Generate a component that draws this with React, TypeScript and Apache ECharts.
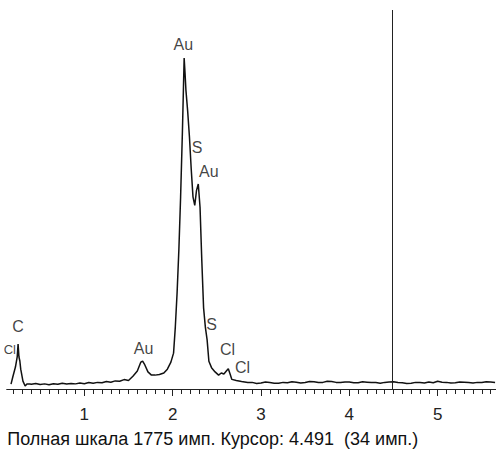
import React, { useEffect, useRef } from "react";
import * as echarts from "echarts";

// Spectrum: energy (keV) and counts (imp.)
const energies = [
  0.17, 0.19, 0.22, 0.24, 0.25, 0.26, 0.27, 0.28, 0.305, 0.33, 0.35, 0.385,
  0.4, 0.45, 0.5, 0.55, 0.6, 0.65, 0.7, 0.75, 0.8, 0.85, 0.9, 0.95, 1.0, 1.05,
  1.1, 1.15, 1.2, 1.25, 1.3, 1.35, 1.4, 1.45, 1.5,
  1.55, 1.6, 1.64, 1.66, 1.68, 1.72, 1.76, 1.8, 1.85, 1.9, 1.94, 1.98, 2.01,
  2.03, 2.05, 2.07, 2.09, 2.11, 2.13, 2.14, 2.15, 2.17, 2.19, 2.21, 2.23, 2.25,
  2.27, 2.29, 2.31, 2.33, 2.35, 2.37, 2.39, 2.41, 2.44, 2.48, 2.52, 2.55, 2.58,
  2.61, 2.63, 2.65, 2.67, 2.72, 2.78, 2.85,
  2.9, 2.95, 3.0, 3.05, 3.1, 3.15, 3.2, 3.25, 3.3, 3.35, 3.4, 3.45, 3.5, 3.55,
  3.6, 3.65, 3.7, 3.75, 3.8, 3.85, 3.9, 3.95, 4.0, 4.05, 4.1, 4.15, 4.2, 4.25,
  4.3, 4.35, 4.4, 4.45, 4.5, 4.55, 4.6, 4.65, 4.7, 4.75, 4.8, 4.85, 4.9, 4.95,
  5.0, 5.05, 5.1, 5.15, 5.2, 5.25, 5.3, 5.35, 5.4, 5.45, 5.5, 5.55, 5.6, 5.65,
];
const counts = [
  23, 56, 103, 150, 210, 150, 131, 93, 37, 14, 23, 23,
  22, 26, 21, 24, 20, 25, 22, 27, 23, 26, 24, 28, 25, 30,
  27, 31, 29, 35, 32, 38, 36, 44, 40,
  60, 84, 126, 131, 117, 80, 65, 65, 68, 75, 93, 126, 168,
  290, 450, 650, 900, 1200, 1550, 1480, 1400, 1300, 1180, 1030, 900, 860,
  930, 960, 850, 600, 380, 290, 230, 130, 100, 80, 65, 75, 70,
  85, 95, 70, 45, 40, 35, 30,
  31, 26, 28, 33, 30, 27, 27, 31, 29, 34, 32, 28, 30, 35,
  34, 30, 31, 36, 35, 31, 30, 33, 33, 29, 29, 34, 32, 30,
  30, 27, 31, 33, 34, 30, 29, 26, 27, 31, 30, 28, 33, 29,
  36, 32, 31, 28, 29, 33, 32, 30, 28, 31, 30, 34, 33, 31,
];

// Peak labels: [energy, counts, text, fontSize]
const peakLabels: [number, number, string, number][] = [
  [0.157, 187, "Cl", 13],
  [0.25, 294, "C", 16],
  [1.67, 192, "Au", 16],
  [2.12, 1612, "Au", 16],
  [2.275, 1130, "S", 16],
  [2.41, 1018, "Au", 16],
  [2.44, 304, "S", 16],
  [2.62, 187, "Cl", 16],
  [2.79, 103, "Cl", 16],
];

const cursorEnergy = 4.491;
const fullScale = 1775;
const footerText = "Полная шкала 1775 имп. Курсор: 4.491  (34 имп.)";

const SHIFT = 7.3;

export default function App() {
  const ref = useRef<HTMLDivElement>(null);
  useEffect(() => {
    if (!ref.current) return;
    const chart = echarts.init(ref.current, null, { renderer: "svg" });
    const font = "'Liberation Sans', Arial, sans-serif";
    chart.setOption({
      animation: false,
      backgroundColor: "#ffffff",
      grid: { left: 0, right: 0, top: 10, bottom: 61 },
      xAxis: {
        type: "value",
        min: 0,
        max: 6,
        interval: 1,
        axisLine: { show: true, lineStyle: { color: "#222", width: 1.2 } },
        axisTick: { show: true, length: 7, lineStyle: { color: "#222" } },
        minorTick: { show: true, splitNumber: 10, length: 5, lineStyle: { color: "#222" } },
        splitLine: { show: false },
        axisLabel: {
          margin: 17,
          fontSize: 17,
          fontFamily: font,
          color: "#222",
          formatter: (v: number) => (v > 0 && v < 5.9 ? String(v) : ""),
        },
      },
      yAxis: {
        type: "value",
        min: 0,
        max: fullScale,
        show: false,
      },
      series: [
        {
          type: "line",
          data: energies.map((e, i) => [e, counts[i]]),
          symbol: "none",
          lineStyle: { color: "#111", width: 1.5 },
          markLine: {
            silent: true,
            symbol: "none",
            label: { show: false },
            lineStyle: { color: "#222", width: 1, type: "solid" },
            data: [{ xAxis: cursorEnergy }],
          },
        },
        {
          type: "scatter",
          data: peakLabels.map((d) => ({
            value: [d[0], d[1]],
            name: d[2],
            label: { fontSize: d[3] },
          })),
          symbolSize: 0,
          clip: false,
          itemStyle: { color: "#111" },
          label: {
            show: true,
            position: [0, 0],
            align: "center",
            verticalAlign: "middle",
            formatter: (p: any) => p.name,
            fontSize: 16,
            fontFamily: font,
            color: "#111",
            textBorderWidth: 0,
          },
        },
      ],
      graphic: [
        {
          type: "rect",
          left: 0,
          top: 384,
          shape: { width: SHIFT + 6, height: 16 },
          style: { fill: "#ffffff" },
          z: 100,
        },
        {
          type: "text",
          left: 7 + SHIFT,
          top: 430,
          style: { text: footerText, fontSize: 18, fontFamily: font, fill: "#111" },
          z: 100,
        },
      ],
    });
    return () => chart.dispose();
  }, []);
  return (
    <div
      ref={ref}
      style={{
        position: "fixed",
        left: -SHIFT,
        top: 0,
        width: 496 + SHIFT + 33,
        height: 450,
        background: "#fff",
      }}
    />
  );
}
